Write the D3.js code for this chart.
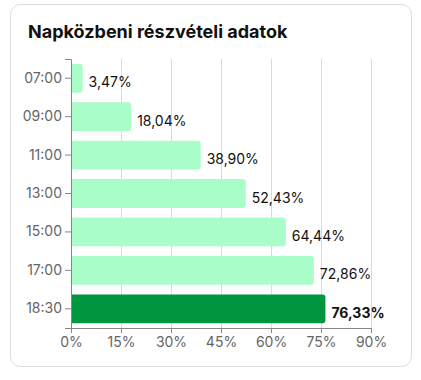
<!DOCTYPE html>
<html><head><meta charset="utf-8">
<script src="https://cdn.jsdelivr.net/npm/d3@7"></script>
<style>
html,body{margin:0;padding:0;background:#fff;}
svg{display:block;font-family:Inter,"Noto Sans",sans-serif;}
</style></head><body>
<svg id="c" width="421" height="380"></svg>
<script>
const title = "Napközbeni részvételi adatok";
const categories = ["07:00","09:00","11:00","13:00","15:00","17:00","18:30"];
const values = [3.47, 18.04, 38.90, 52.43, 64.44, 72.86, 76.33];
const labels = ["3,47%","18,04%","38,90%","52,43%","64,44%","72,86%","76,33%"];
const xTicks = [0,15,30,45,60,75,90];
const highlight = "18:30";

const svg = d3.select("#c");
svg.append("rect").attr("x",10.5).attr("y",4.5).attr("width",401).attr("height",362)
  .attr("rx",10).attr("fill","#fff").attr("stroke","#dcdcdc");
svg.append("text").attr("x",28).attr("y",38).text(title)
  .attr("font-size",18).attr("font-weight",700).attr("fill","#111");

const m = {left:71, right:371, top:59, bottom:328};
const x = d3.scaleLinear().domain([0,90]).range([m.left,m.right]);
const y = d3.scaleBand().domain(categories).range([m.top,m.bottom]).paddingInner(0.25).paddingOuter(0.125);

// grid
svg.append("g").selectAll("line").data(xTicks.slice(1)).join("line")
  .attr("x1",d=>x(d)+0.5).attr("x2",d=>x(d)+0.5).attr("y1",m.top).attr("y2",m.bottom)
  .attr("stroke","#d9d9d9").attr("stroke-width",1);

// bars (rounded right corners)
function barPath(x0,x1,y0,h,r){
  r = Math.min(r,(x1-x0),h/2);
  return `M${x0},${y0}H${x1-r}Q${x1},${y0} ${x1},${y0+r}V${y0+h-r}Q${x1},${y0+h} ${x1-r},${y0+h}H${x0}Z`;
}
svg.append("g").selectAll("path").data(categories).join("path")
  .attr("d",(c,i)=>barPath(x(0),x(values[i]),y(c),y.bandwidth(),3))
  .attr("fill",c=>c===highlight?"#009640":"#a8fdc8");

svg.append("g").selectAll("text").data(categories).join("text")
  .attr("x",(c,i)=>x(values[i])+6).attr("y",c=>y(c)+y.bandwidth()/2+9)
  .attr("font-size",14).attr("fill","#111")
  .attr("font-weight",c=>c===highlight?700:400)
  .text((c,i)=>labels[i]);

// axes
const ya = svg.append("g").attr("transform",`translate(${m.left},0)`)
  .call(d3.axisLeft(y).tickSize(6).tickPadding(3));
const xa = svg.append("g").attr("transform",`translate(0,${m.bottom})`)
  .call(d3.axisBottom(x).tickValues(xTicks).tickFormat(d=>d+"%").tickSize(5).tickPadding(4));
[ya,xa].forEach(a=>{
  a.selectAll("path,line").attr("stroke","#888");
  a.selectAll("text").attr("fill","#666").attr("font-size",14).attr("font-family",'Inter,"Noto Sans",sans-serif');
});
</script>
</body></html>
